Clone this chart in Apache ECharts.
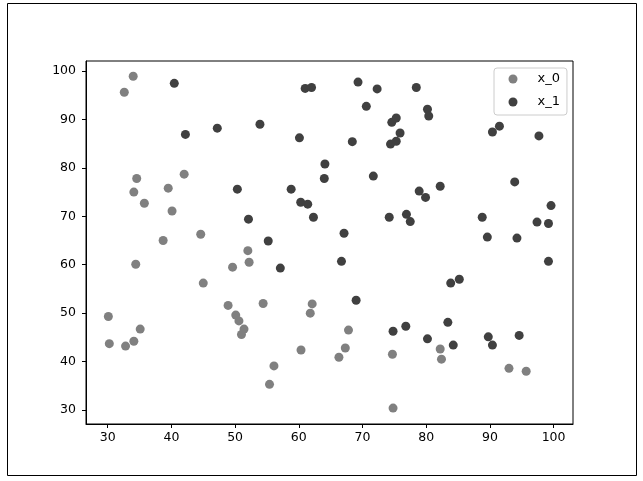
<!DOCTYPE html>
<html>
<head>
<meta charset="utf-8">
<script src="https://cdn.jsdelivr.net/npm/echarts@6/dist/echarts.min.js"></script>
<style>
html,body{margin:0;padding:0;background:#fff;}
#chart{width:643px;height:481px;}
</style>
</head>
<body>
<div id="chart"></div>
<script>
// Series names
const seriesNames = ["x_0", "x_1"];

// x_0 (grey) points: [x, y]
const x0Points = [
  [34.0, 98.9], [32.6, 95.6], [34.55, 77.8], [34.1, 75.0], [35.75, 72.7],
  [39.5, 75.8], [42.0, 78.7], [40.1, 71.1], [44.6, 66.3], [38.7, 65.0],
  [34.4, 60.1], [49.6, 59.5], [52.0, 62.9], [52.2, 60.5], [45.0, 56.2],
  [48.9, 51.6], [50.1, 49.6], [50.6, 48.4], [51.4, 46.7], [51.0, 45.6],
  [30.1, 49.3], [30.25, 43.7], [32.8, 43.2], [34.1, 44.2], [35.1, 46.7],
  [54.4, 52.0], [62.1, 51.9], [61.8, 50.0], [67.8, 46.5], [60.35, 42.4],
  [67.3, 42.8], [66.3, 40.9], [56.1, 39.1], [55.4, 35.3], [74.7, 41.5],
  [74.8, 30.4], [82.2, 42.6], [82.4, 40.5], [93.0, 38.6], [95.7, 38.0]
];

// x_1 (dark) points: [x, y]
const x1Points = [
  [40.45, 97.45], [47.2, 88.2], [42.2, 86.9], [50.35, 75.6], [52.1, 69.4],
  [53.9, 89.0], [61.0, 96.4], [62.0, 96.6], [69.3, 97.7], [72.3, 96.3],
  [70.6, 92.7], [60.1, 86.2], [68.4, 85.4], [74.6, 89.4], [75.3, 90.3],
  [75.9, 87.2], [74.4, 84.9], [75.3, 85.5], [64.1, 80.8], [64.0, 77.8],
  [71.7, 78.3], [58.8, 75.6], [60.3, 72.9], [61.4, 72.5], [62.3, 69.8],
  [55.2, 64.9], [67.1, 66.5], [74.2, 69.8], [76.9, 70.4], [77.5, 68.9],
  [78.45, 96.6], [80.2, 92.1], [80.4, 90.7], [90.4, 87.4], [91.5, 88.6],
  [97.7, 86.6], [78.9, 75.2], [79.9, 73.9], [82.2, 76.2], [93.9, 77.1],
  [99.6, 72.2], [88.8, 69.8], [97.4, 68.8], [99.2, 68.5], [89.6, 65.7],
  [94.25, 65.5], [57.1, 59.3], [66.7, 60.7], [69.0, 52.65], [74.8, 46.25],
  [76.8, 47.3], [99.2, 60.7], [83.85, 56.2], [85.2, 57.0], [83.4, 48.1],
  [80.2, 44.7], [84.25, 43.4], [89.75, 45.1], [90.4, 43.4], [94.6, 45.4]
];

// Tick labels
const xTicks = [30, 40, 50, 60, 70, 80, 90, 100];
const yTicks = [30, 40, 50, 60, 70, 80, 90, 100];

const FONT = "DejaVu Sans";
const chart = echarts.init(document.getElementById('chart'), null, {renderer: 'canvas'});

const axisCommon = {
  axisLine: {show: true, onZero: false, lineStyle: {color: '#000', width: 1}},
  splitLine: {show: false},
};

chart.setOption({
  animation: false,
  backgroundColor: '#fff',
  textStyle: {fontFamily: FONT},
  graphic: [{
    type: 'rect',
    shape: {x: 7.5, y: 3.5, width: 629, height: 472},
    style: {fill: 'none', stroke: '#000', lineWidth: 1},
    silent: true,
    z: -10
  }],
  grid: {
    left: 86, top: 61, right: 70, bottom: 57,
    show: true, borderColor: '#000', borderWidth: 1, backgroundColor: 'transparent'
  },
  legend: {
    orient: 'vertical',
    left: 494, top: 68,
    padding: [4, 7, 6, 14.5],
    itemWidth: 39, itemHeight: 9,
    itemGap: 9,
    icon: 'circle',
    borderColor: '#cccccc', borderWidth: 1, borderRadius: 3,
    backgroundColor: 'rgba(255,255,255,0.8)',
    textStyle: {fontFamily: FONT, fontSize: 13, color: '#000', lineHeight: 14},
    data: seriesNames
  },
  xAxis: Object.assign({
    type: 'value',
    min: 26.59, max: 103.05,
    axisTick: {show: true, inside: false, length: 4, customValues: xTicks, lineStyle: {color: '#000'}},
    axisLabel: {show: true, customValues: xTicks, margin: 7, color: '#000', fontFamily: FONT, fontSize: 12.5}
  }, axisCommon),
  yAxis: Object.assign({
    type: 'value',
    min: 27.11, max: 102.06,
    axisTick: {show: true, inside: false, length: 4, customValues: yTicks, lineStyle: {color: '#000'}},
    axisLabel: {show: true, customValues: yTicks, margin: 10, color: '#000', fontFamily: FONT, fontSize: 12.5}
  }, axisCommon),
  series: [
    {
      name: seriesNames[0], type: 'scatter', data: x0Points,
      symbol: 'circle', symbolSize: 9,
      itemStyle: {color: '#808080', opacity: 1}
    },
    {
      name: seriesNames[1], type: 'scatter', data: x1Points,
      symbol: 'circle', symbolSize: 9,
      itemStyle: {color: '#404040', opacity: 1}
    }
  ]
});
</script>
</body>
</html>
